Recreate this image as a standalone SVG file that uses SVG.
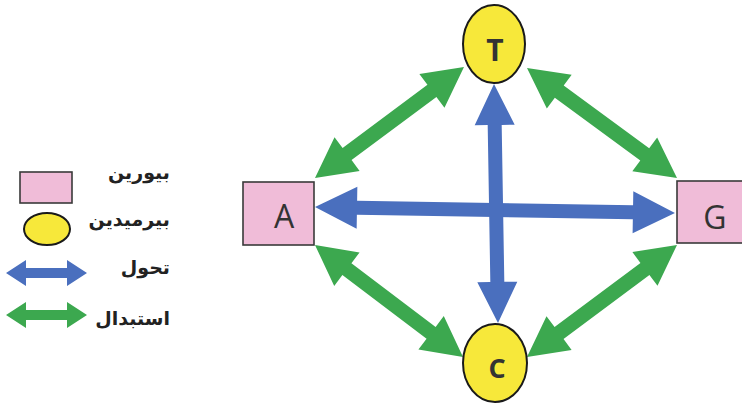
<svg xmlns="http://www.w3.org/2000/svg" width="742" height="403" viewBox="0 0 742 403">
<style>
.base{fill:#f0bcd8;stroke:#3a3a3a;stroke-width:1.6}
.pyr{fill:#f7e83a;stroke:#1a1a1a;stroke-width:2}
.lbl{font-family:"Open Sans","Liberation Sans",sans-serif;fill:#333;text-anchor:middle}
.big{font-size:32px}
.bold{font-weight:bold}
.green{fill:#3ca84f}
.blue{fill:#4a6fbe}
.leg{font-family:"DejaVu Sans","Noto Sans",sans-serif;font-size:19px;font-weight:bold;fill:#222;text-anchor:end}
</style>
<rect width="742" height="403" fill="#ffffff"/>
<g id="connectors">
<polygon class="green" transform="translate(315,178) rotate(-36.69)" points="0,0 40,-21 40,-7.5 145.8,-7.5 145.8,-21 185.8,0 145.8,21 145.8,7.5 40,7.5 40,21"/>
<polygon class="green" transform="translate(527,68) rotate(36.25)" points="0,0 40,-21 40,-7.5 146,-7.5 146,-21 186,0 146,21 146,7.5 40,7.5 40,21"/>
<polygon class="green" transform="translate(315,245) rotate(37.12)" points="0,0 40,-21 40,-7.5 145.6,-7.5 145.6,-21 185.6,0 145.6,21 145.6,7.5 40,7.5 40,21"/>
<polygon class="green" transform="translate(527,357) rotate(-36.75)" points="0,0 40,-21 40,-7.5 147.2,-7.5 147.2,-21 187.2,0 147.2,21 147.2,7.5 40,7.5 40,21"/>
<polygon class="blue" transform="translate(315,207) rotate(0.955)" points="0,0 42,-21 42,-7 318,-7 318,-21 360,0 318,21 318,7 42,7 42,21"/>
<polygon class="blue" transform="translate(494,84) rotate(89.04)" points="0,0 41,-20 41,-7 198,-7 198,-20 239,0 198,20 198,7 41,7 41,20"/>
</g>
<g id="node-A">
<rect class="base" x="243" y="182" width="71" height="63"/>
<text class="lbl big" x="284" y="228">A</text>
</g>
<g id="node-G">
<rect class="base" x="677" y="181" width="72" height="62"/>
<text class="lbl big" x="715" y="229">G</text>
</g>
<g id="node-T">
<ellipse class="pyr" cx="494" cy="44" rx="31" ry="39"/>
<text class="lbl bold" style="font-size:30px" x="495" y="61">T</text>
</g>
<g id="node-C">
<ellipse class="pyr" cx="495" cy="363" rx="32" ry="39"/>
<text class="lbl bold" style="font-size:27px" x="497" y="378">C</text>
</g>
<g id="legend">
<rect class="base" x="20" y="172" width="52" height="31"/>
<ellipse class="pyr" cx="47" cy="229" rx="23" ry="16"/>
<polygon class="blue" points="6,273 26,260 26,268 67,268 67,260 87,273 67,286 67,278 26,278 26,286"/>
<polygon class="green" points="6,315 26,302 26,310 67,310 67,302 87,315 67,328 67,320 26,320 26,328"/>
<text class="leg" x="170" y="179">بیورین</text>
<text class="leg" x="170" y="226">بیرمیدین</text>
<text class="leg" x="170" y="274">تحول</text>
<text class="leg" x="170" y="325">استبدال</text>
</g>
</svg>
